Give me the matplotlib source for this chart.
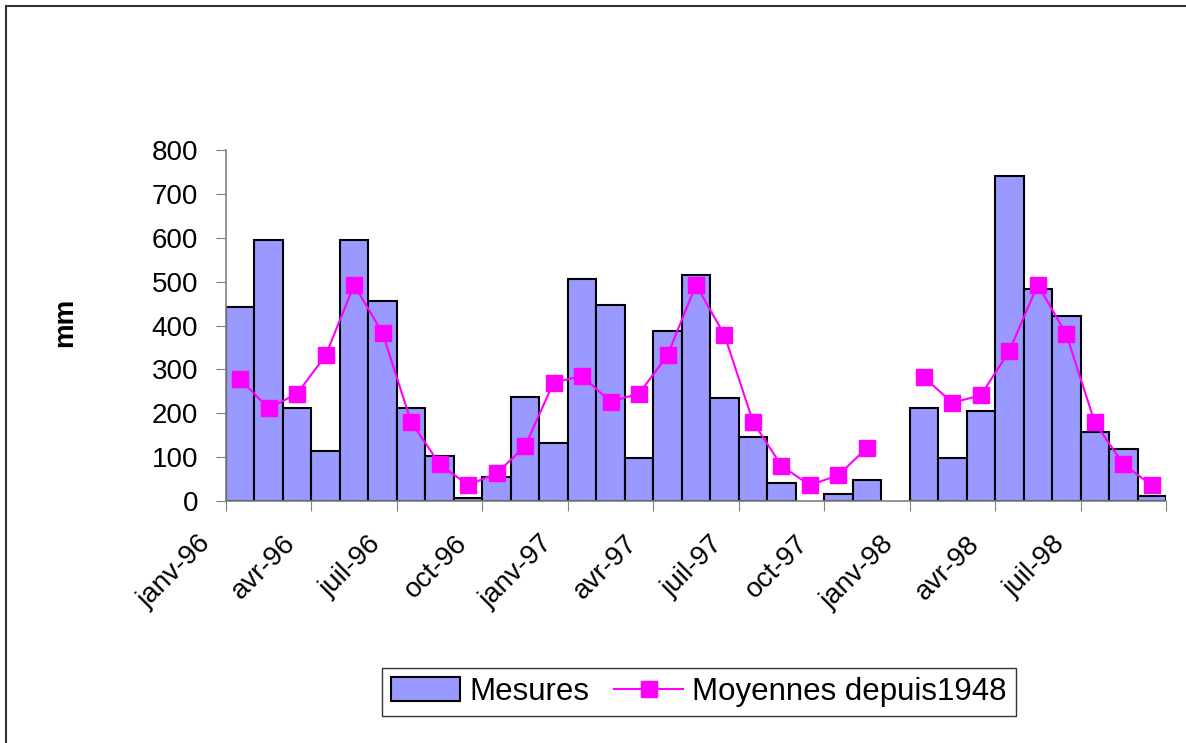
import matplotlib.pyplot as plt
import numpy as np
from matplotlib.lines import Line2D

plt.rcParams['font.family'] = ['Liberation Sans', 'DejaVu Sans']

# months janv-96 .. sept-98 (33 categories)
months = ["janv-96", "févr-96", "mars-96", "avr-96", "mai-96", "juin-96",
          "juil-96", "août-96", "sept-96", "oct-96", "nov-96", "déc-96",
          "janv-97", "févr-97", "mars-97", "avr-97", "mai-97", "juin-97",
          "juil-97", "août-97", "sept-97", "oct-97", "nov-97", "déc-97",
          "janv-98", "févr-98", "mars-98", "avr-98", "mai-98", "juin-98",
          "juil-98", "août-98", "sept-98"]

# measured rainfall (mm), nan = no data
mesures = [442, 596, 212, 113, 596, 456, 212, 103, 6, 55, 237, 133,
           505, 446, 99, 388, 516, 234, 146, 40, np.nan, 17, 48, np.nan,
           212, 99, 205, 740, 484, 421, 158, 118, 11]

# long-term monthly means since 1948
moyennes = [277, 211, 245, 332, 493, 382, 180, 84, 36, 63, 125, 270,
            285, 226, 245, 332, 493, 378, 181, 80, 36, 59, 121, np.nan,
            282, 224, 241, 342, 493, 380, 179, 84, 36]

tick_labels = ["janv-96", "avr-96", "juil-96", "oct-96", "janv-97", "avr-97",
               "juil-97", "oct-97", "janv-98", "avr-98", "juil-98"]

fig = plt.figure(figsize=(11.86, 7.43), dpi=100)
W, H = 1186, 743
ax = fig.add_axes([226 / W, 1 - 501 / H, (1166 - 226) / W, (501 - 150) / H])

x = np.arange(len(months)) + 0.5
bars = ax.bar(x, mesures, width=1.0, color="#9999FF", edgecolor="black",
              linewidth=1.5, label="Mesures", zorder=2)
line, = ax.plot(x, moyennes, color="#FF00FF", linewidth=1.5, marker="s",
                markersize=12, markeredgecolor="#FF00FF",
                label="Moyennes depuis1948", zorder=3)

ax.set_xlim(0, len(months))
ax.set_ylim(0, 800)
ax.set_yticks(range(0, 801, 100))
ax.tick_params(axis="y", labelsize=20, length=7, pad=13, color="#808080")
ax.tick_params(axis="x", length=7, color="#808080")

ax.set_xticks(np.arange(0, len(months) + 1, 3))
ax.set_xticklabels([])
for i, lab in enumerate(tick_labels):
    ax.annotate(lab, xy=(i * 3, 0), xycoords=("data", "axes fraction"),
                xytext=(-14, -28), textcoords="offset points",
                rotation=45, rotation_mode="anchor", ha="right", va="center",
                fontsize=20)

for s in ["top", "right"]:
    ax.spines[s].set_visible(False)
for s in ["left", "bottom"]:
    ax.spines[s].set_color("#808080")
    ax.spines[s].set_linewidth(1.2)

fig.text(65 / W, 1 - 322 / H, "mm", rotation=90, fontsize=20,
         fontweight="bold", ha="center", va="center")

leg = fig.legend(handles=[bars, line], loc="center",
                 bbox_to_anchor=(699 / W, 1 - 692 / H),
                 ncol=2, fontsize=22.5, frameon=True, fancybox=False,
                 edgecolor="black", handlelength=2.2, handleheight=0.8,
                 columnspacing=0.8, handletextpad=0.3, borderpad=0.3,
                 borderaxespad=0)
leg.get_frame().set_linewidth(1.0)

# page frame (top and left edges)
fig.add_artist(Line2D([6 / W, 1], [1 - 6 / H, 1 - 6 / H],
                      transform=fig.transFigure, color="#333333", lw=1.5))
fig.add_artist(Line2D([6 / W, 6 / W], [0, 1 - 6 / H],
                      transform=fig.transFigure, color="#333333", lw=1.5))

fig.savefig("out.png", dpi=100)
